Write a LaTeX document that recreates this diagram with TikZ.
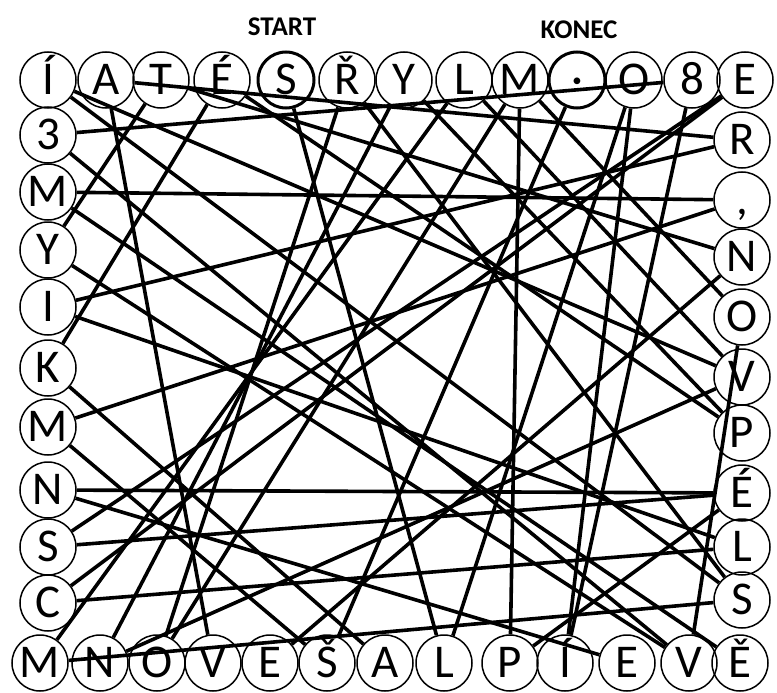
\documentclass[tikz,border=0pt]{standalone}
\usepackage{fontspec}
\setmainfont{Carlito}
\begin{document}
\begin{tikzpicture}[x=1pt,y=-1pt]
\tikzset{
 ltr/.style={circle,draw,line width=1.5pt,minimum size=56pt,inner sep=0pt,
   font=\fontsize{47}{47}\selectfont,text height=29pt,text depth=0pt},
 thk/.style={line width=3pt},
 wire/.style={line width=3.6pt},
 ttl/.style={font=\fontsize{27}{27}\selectfont\bfseries}
}
\useasboundingbox (0,0) rectangle (777,693);
% top row
\node[ltr] (t0) at (48,80) {Í};
\node[ltr] (t1) at (106,80) {A};
\node[ltr] (t2) at (161,80) {T};
\node[ltr] (t3) at (222,80) {É};
\node[ltr,thk] (t4) at (286,80) {S};
\node[ltr] (t5) at (347,80) {Ř};
\node[ltr] (t6) at (404,80) {Y};
\node[ltr] (t7) at (464,80) {L};
\node[ltr] (t8) at (520,80) {M};
\node[ltr,thk] (t9) at (577,80) {·};
\node[ltr] (t10) at (634,80) {O};
\node[ltr] (t11) at (692,80) {8};
\node[ltr] (t12) at (745,80) {E};
% left column
\node[ltr] (l1) at (48,135) {3};
\node[ltr] (l2) at (48,192) {M};
\node[ltr] (l3) at (48,250) {Y};
\node[ltr] (l4) at (48,307) {I};
\node[ltr] (l5) at (48,368) {K};
\node[ltr] (l6) at (48,427) {M};
\node[ltr] (l7) at (48,490) {N};
\node[ltr] (l8) at (48,547) {S};
\node[ltr] (l9) at (48,603) {C};
% right column
\node[ltr] (r1) at (742,140) {R};
\node[ltr] (r2) at (742,200) {,};
\node[ltr] (r3) at (742,257) {N};
\node[ltr] (r4) at (742,317) {O};
\node[ltr] (r5) at (742,377) {V};
\node[ltr] (r6) at (742,433) {P};
\node[ltr] (r7) at (742,493) {É};
\node[ltr] (r8) at (742,547) {L};
\node[ltr] (r9) at (742,600) {S};
% bottom row
\node[ltr] (b0) at (40,663) {M};
\node[ltr] (b1) at (100,663) {N};
\node[ltr] (b2) at (157,663) {O};
\node[ltr] (b3) at (213,663) {V};
\node[ltr] (b4) at (270,663) {E};
\node[ltr] (b5) at (327,663) {Š};
\node[ltr] (b6) at (385,663) {A};
\node[ltr] (b7) at (444,663) {L};
\node[ltr] (b8) at (510,663) {P};
\node[ltr] (b9) at (565,663) {Í};
\node[ltr] (b10) at (627,663) {E};
\node[ltr] (b11) at (689,663) {V};
\node[ltr] (b12) at (740,663) {Ě};
% titles
\node[ttl] (start) at (282,27) {START};
\node[ttl] (konec) at (579,30) {KONEC};
% connectors
\foreach \a/\b in {l2/r2,l7/r7,t2/l3,l4/r1,l5/t3,l6/r2,r4/b11,t8/b2,b2/t5,l9/t12,
  l8/t12,b0/r9,l1/t11,t11/b9,t7/r5,t1/r1,l7/b10,t4/b7,t5/r9,t8/r4,l3/b11,l4/r8,
  l6/b5,l5/b6,b0/t7,l8/r7,l9/r8,l1/b11,l2/b12,t2/r3,t0/r9,t0/r5,t3/r6,r3/b4,t9/b5,
  t10/b7,t6/b1,b1/r5,t6/r6,t1/b3,t8/b8,r7/b8,t10/b9}
  \draw[wire] (\a) -- (\b);
\end{tikzpicture}
\end{document}
